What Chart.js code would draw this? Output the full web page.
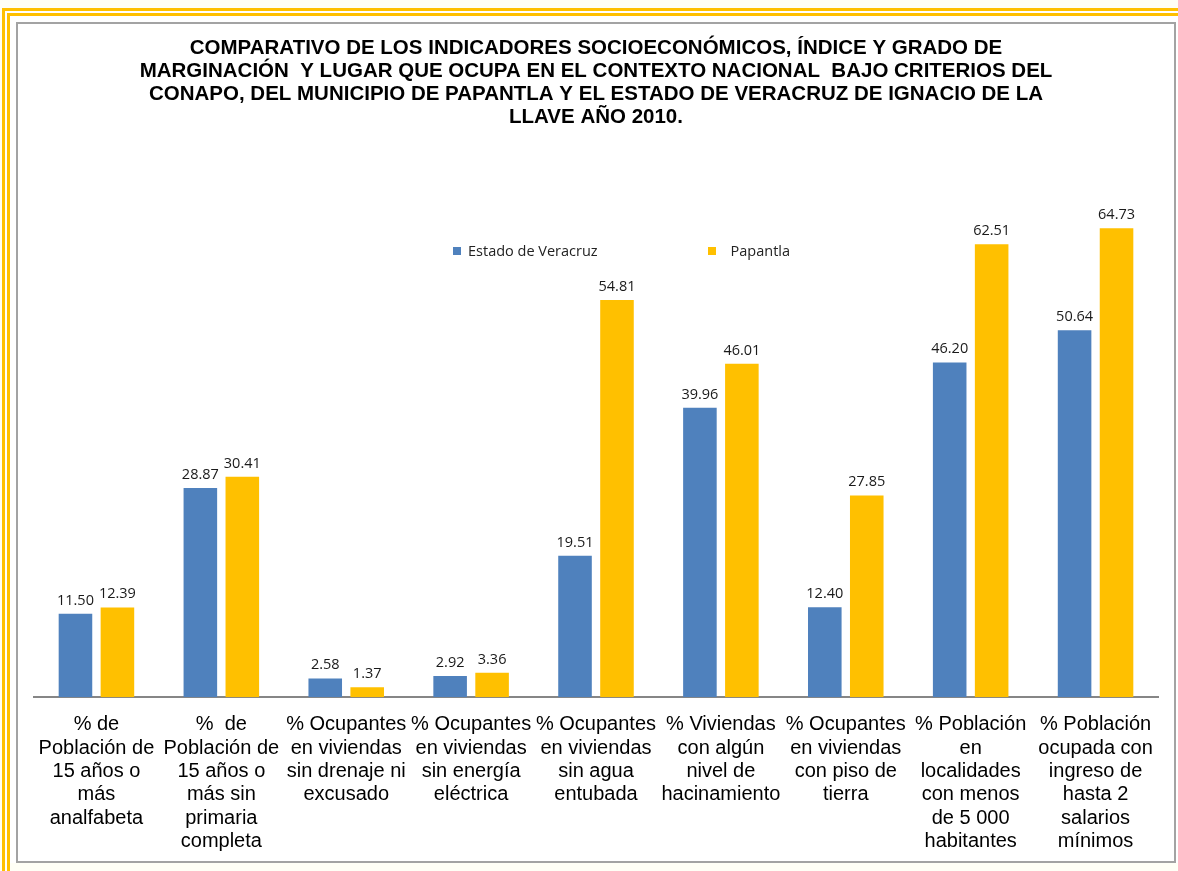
<!DOCTYPE html>
<html>
<head>
<meta charset="utf-8">
<script src="https://cdn.jsdelivr.net/npm/chart.js@4.4.0/dist/chart.umd.min.js"></script>
<style>
  html,body{margin:0;padding:0;width:1178px;height:871px;overflow:hidden;background:#fffff6;font-family:"Liberation Sans",Arial,sans-serif;}
  #yband{position:absolute;left:2px;top:8px;width:1200px;height:900px;border-top:8px double #FFC000;border-left:8px double #FFC000;background:#ffffff;box-sizing:border-box;}
  #frame{position:absolute;left:16px;top:22px;width:1160px;height:841px;border:2px solid #a3a3a3;box-sizing:border-box;background:#ffffff;}
  #bottomfill{position:absolute;left:10px;top:863px;width:1170px;height:10px;background:#fffff6;}
  #wrap{position:absolute;left:0;top:0;width:1178px;height:871px;}
  #legend{position:absolute;top:241px;left:0;width:1178px;height:20px;font-family:"Open Sans",sans-serif;font-size:14.5px;color:#222;}
  .li{position:absolute;top:0;white-space:nowrap;}
  .sw{display:inline-block;width:8px;height:8px;margin-right:7px;vertical-align:1px;}
</style>
</head>
<body>
<div id="yband"></div>
<div id="bottomfill"></div>
<div id="frame"></div>
<div id="wrap"><canvas id="c" width="1178" height="871"></canvas></div>
<div id="legend"></div>
<script>
const titleLines = [
  "COMPARATIVO DE LOS INDICADORES SOCIOECONÓMICOS, ÍNDICE Y GRADO DE",
  "MARGINACIÓN  Y LUGAR QUE OCUPA EN EL CONTEXTO NACIONAL  BAJO CRITERIOS DEL",
  "CONAPO, DEL MUNICIPIO DE PAPANTLA Y EL ESTADO DE VERACRUZ DE IGNACIO DE LA",
  "LLAVE AÑO 2010."
];
const categories = [
  ["% de","Población de","15 años o","más","analfabeta"],
  ["%  de","Población de","15 años o","más sin","primaria","completa"],
  ["% Ocupantes","en viviendas","sin drenaje ni","excusado"],
  ["% Ocupantes","en viviendas","sin energía","eléctrica"],
  ["% Ocupantes","en viviendas","sin agua","entubada"],
  ["% Viviendas","con algún","nivel de","hacinamiento"],
  ["% Ocupantes","en viviendas","con piso de","tierra"],
  ["% Población","en","localidades","con menos","de 5 000","habitantes"],
  ["% Población","ocupada con","ingreso de","hasta 2","salarios","mínimos"]
];
const seriesNames = ["Estado de Veracruz", "Papantla"];
const veracruz = [11.50, 28.87, 2.58, 2.92, 19.51, 39.96, 12.40, 46.20, 50.64];
const papantla = [12.39, 30.41, 1.37, 3.36, 54.81, 46.01, 27.85, 62.51, 64.73];
const colors = ["#4F81BD", "#FFC000"];

const valueLabels = {
  id: 'valueLabels',
  afterDatasetsDraw(chart) {
    const ctx = chart.ctx;
    ctx.save();
    ctx.font = '14.5px "Open Sans", sans-serif';
    ctx.fillStyle = '#1a1a1a';
    ctx.textAlign = 'center';
    ctx.textBaseline = 'bottom';
    chart.data.datasets.forEach((ds, i) => {
      const meta = chart.getDatasetMeta(i);
      meta.data.forEach((el, j) => {
        ctx.fillText(ds.data[j].toFixed(2), el.x, el.y - 6);
      });
    });
    ctx.restore();
  }
};

const chart = new Chart(document.getElementById('c'), {
  type: 'bar',
  data: {
    labels: categories,
    datasets: [
      { label: seriesNames[0], data: veracruz, backgroundColor: colors[0], borderWidth: 0, categoryPercentage: 0.672, barPercentage: 0.8 },
      { label: seriesNames[1], data: papantla, backgroundColor: colors[1], borderWidth: 0, categoryPercentage: 0.672, barPercentage: 0.8 }
    ]
  },
  options: {
    responsive: false,
    animation: false,
    devicePixelRatio: 1,
    layout: { padding: { left: 34, right: 20, top: 27, bottom: 2 } },
    plugins: {
      legend: { display: false },
      tooltip: { enabled: false },
      title: {
        display: true,
        text: titleLines,
        color: '#000',
        font: { family: '"Liberation Sans", Arial, sans-serif', size: 20.5, weight: 'bold', lineHeight: '23px' },
        padding: { top: 10, bottom: 61 }
      }
    },
    scales: {
      x: {
        grid: { display: false, drawTicks: false },
        border: { display: true, color: '#868686', width: 2 },
        ticks: {
          color: '#000',
          autoSkip: false,
          maxRotation: 0,
          minRotation: 0,
          padding: 16,
          font: { family: '"Liberation Sans", Arial, sans-serif', size: 20, lineHeight: '23.3px' }
        }
      },
      y: { display: false, min: 0, max: 70 }
    }
  },
  plugins: [valueLabels]
});

// HTML legend
const legend = document.getElementById('legend');
const legendX = [453, 708];
seriesNames.forEach((n, i) => {
  const d = document.createElement('div');
  d.className = 'li';
  d.style.left = legendX[i] + 'px';
  d.innerHTML = '<span class="sw" style="background:' + colors[i] + '"></span>' + (i === 1 ? '&nbsp;&nbsp;' : '') + n;
  legend.appendChild(d);
});
</script>
</body>
</html>
